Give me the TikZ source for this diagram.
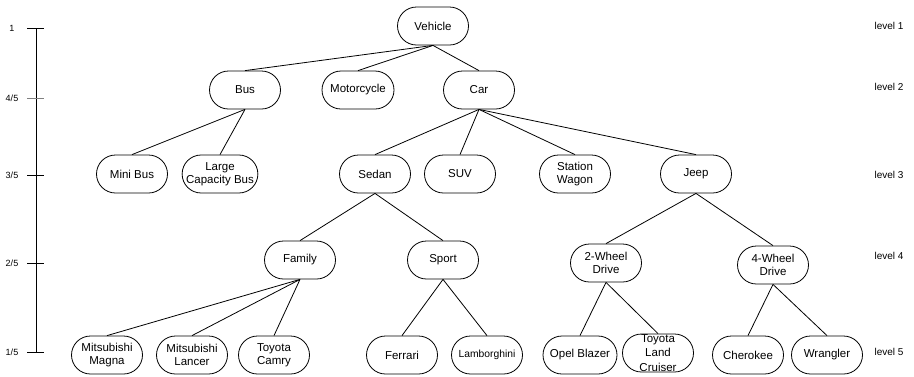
\documentclass[tikz,border=0pt]{standalone}
\usepackage{fontspec}
\setmainfont{Liberation Sans}
\begin{document}
\begin{tikzpicture}[x=1pt,y=-1pt,
  nd/.style={draw, rounded corners=19pt, minimum height=38pt, minimum width=71pt,
    inner xsep=4pt, inner ysep=2pt, align=center,
    font=\fontsize{11.5}{13}\selectfont, line width=0.8pt},
  ed/.style={line width=0.8pt},
  lv/.style={font=\fontsize{10}{12}\selectfont},
  ax/.style={font=\fontsize{9}{11}\selectfont}]
\useasboundingbox (0,0) rectangle (914,376);

% axis
\coordinate (atop) at (36,28);
\coordinate (abot) at (36,352);
\draw[ed] (atop) -- (abot);
\foreach \y/\t/\c in {28/1/black, 98/4\slash 5/gray, 175/3\slash 5/black, 263/2\slash 5/black, 352/1\slash 5/black}{
  \draw[ed, draw=\c] (27,\y) -- (44,\y);
  \node[ax] at (12,\y) {\t};
}

% level labels
\node[lv] (l1) at (889,26) {level 1};
\node[lv] (l2) at (889,87) {level 2};
\node[lv] (l3) at (889,175) {level 3};
\node[lv] (l4) at (889,256) {level 4};
\node[lv] (l5) at (889,352) {level 5};

% nodes
\node[nd] (veh) at (433,26) {Vehicle};
\node[nd] (bus) at (245,90) {Bus};
\node[nd, minimum width=72pt] (moto) at (358,90) {Motorcycle};
\node[nd] (car) at (479,90) {Car};

\node[nd] (mini) at (132,174) {Mini Bus};
\node[nd] (lcb) at (220,174) {Large\\Capacity Bus};
\node[nd] (sedan) at (375,174) {Sedan};
\node[nd] (suv) at (460,174) {SUV};
\node[nd] (sw) at (575,174) {Station\\Wagon};
\node[nd] (jeep) at (696,174) {Jeep};

\node[nd] (family) at (300,260) {Family};
\node[nd] (sport) at (443,260) {Sport};
\node[nd] (twd) at (606,263) {2-Wheel\\Drive};
\node[nd] (fwd) at (773,265) {4-Wheel\\Drive};

\node[nd] (magna) at (107,355) {Mitsubishi\\Magna};
\node[nd] (lancer) at (192,355) {Mitsubishi\\Lancer};
\node[nd] (camry) at (274,355) {Toyota\\Camry};
\node[nd] (ferrari) at (402,355) {Ferrari};
\node[nd, font=\fontsize{10.3}{12}\selectfont] (lambo) at (487,355) {Lamborghini};
\node[nd, minimum width=74pt] (opel) at (580,355) {Opel Blazer};
\node[nd, label={[align=center, font=\fontsize{11.5}{14.5}\selectfont]center:Toyota\\Land\\Cruiser}] (tlc) at (658,353) {};
\node[nd] (cherokee) at (748,355) {Cherokee};
\node[nd] (wrangler) at (827,355) {Wrangler};

% edges
\foreach \p/\c in {veh/bus, veh/moto, veh/car,
  bus/mini, bus/lcb,
  car/sedan, car/suv, car/sw, car/jeep,
  sedan/family, sedan/sport,
  jeep/twd, jeep/fwd,
  family/magna, family/lancer, family/camry,
  sport/ferrari, sport/lambo,
  twd/opel, twd/tlc,
  fwd/cherokee, fwd/wrangler}{
  \draw[ed] (\p.south) -- (\c.north);
}
\end{tikzpicture}
\end{document}
